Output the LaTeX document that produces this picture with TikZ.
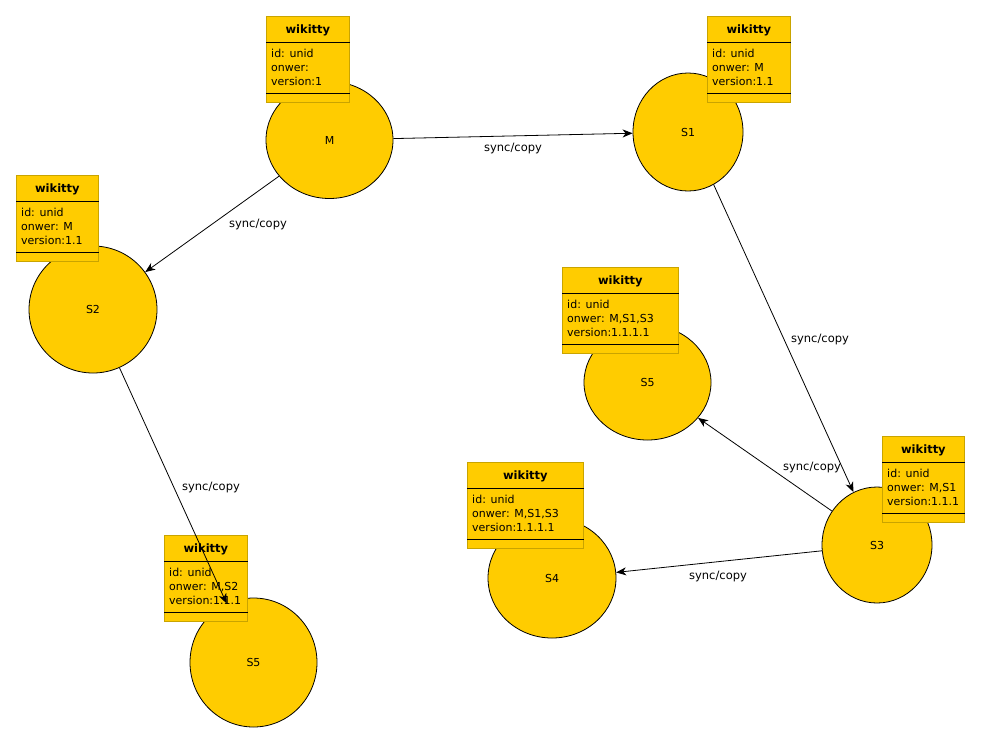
\documentclass[tikz,border=0pt]{standalone}
\usepackage{fontspec}
\setmainfont{DejaVu Sans}
\usetikzlibrary{shapes.geometric,arrows.meta,calc}
\definecolor{gold}{HTML}{FFCC00}
\definecolor{goldedge}{HTML}{C9A400}
\tikzset{
  txt/.style={font=\fontsize{11}{13}\selectfont, inner sep=0pt},
  ell/.style={ellipse, draw=black, fill=gold, line width=0.8pt, inner sep=0pt, txt},
  wbox/.style={rectangle, draw=goldedge, fill=gold, line width=0.8pt, minimum height=86pt, inner sep=0pt},
  attr/.style={txt, anchor=base west},
  sep/.style={draw=black, line width=0.8pt},
  flow/.style={draw=black, line width=0.8pt, -{Stealth[length=10pt,width=8pt,inset=3pt]}},
  lbl/.style={inner sep=0pt, font=\fontsize{11.5}{13}\selectfont}
}
\newcommand{\wbox}[6]{%
  \node[wbox, minimum width=#4pt, anchor=north west] (#1) at (#2,#3) {};
  \node[txt, anchor=base, font=\fontsize{11.5}{13}\selectfont\bfseries] (#1title) at ($(#1.north)+(0,17)$) {wikitty};
  \draw[sep] ($(#1.north west)+(0,26)$) -- ($(#1.north east)+(0,26)$);
  \draw[sep] ($(#1.north west)+(0,77)$) -- ($(#1.north east)+(0,77)$);
  \node[attr] (#1id) at ($(#1.north west)+(5,41)$) {id: unid};
  \node[attr] (#1ow) at ($(#1.north west)+(5,55)$) {#5};
  \node[attr] (#1ver) at ($(#1.north west)+(5,69)$) {#6};
}
\begin{document}
\begin{tikzpicture}[x=1pt,y=-1pt]
\useasboundingbox[fill=white] (0,0) rectangle (981,742);
% ellipses
\node[ell, minimum width=127pt, minimum height=117pt] (M) at (329.5,140) {M};
\node[ell, minimum width=110pt, minimum height=118pt] (S1) at (688,132) {S1};
\node[ell, minimum width=128pt, minimum height=127pt] (S2) at (93,309.5) {S2};
\node[ell, minimum width=127pt, minimum height=115pt] (S5a) at (647.5,382.5) {S5};
\node[ell, minimum width=110pt, minimum height=116pt] (S3) at (877,545) {S3};
\node[ell, minimum width=128pt, minimum height=120pt] (S4) at (552,578) {S4};
\node[ell, minimum width=127pt, minimum height=129pt] (S5b) at (253.5,662.5) {S5};
% boxes
\wbox{bM}{266}{16}{83}{onwer:}{version:1}
\wbox{bS1}{707}{16}{83}{onwer: M}{version:1.1}
\wbox{bS2}{16}{175}{82}{onwer: M}{version:1.1}
\wbox{bS5a}{562}{267}{116}{onwer: M,S1,S3}{version:1.1.1.1}
\wbox{bS3}{882}{436}{82}{onwer: M,S1}{version:1.1.1}
\wbox{bS4}{467}{462}{116}{onwer: M,S1,S3}{version:1.1.1.1}
\wbox{bS5b}{164}{535}{83}{onwer: M,S2}{version:1.1.1}
% connectors
\draw[flow] (M) -- (S1);
\draw[flow] (M) -- (S2);
\draw[flow] (S2) -- (S5b);
\draw[flow] (S1.-64.7) -- (S3.114.4);
\draw[flow] (S3.143.3) -- (S5a.-35.5);
\draw[flow] (S3.186.3) -- (S4.5.4);
% labels
\node[lbl] (l1) at (513,148) {sync/copy};
\node[lbl] (l2) at (258,224) {sync/copy};
\node[lbl] (l3) at (211,487) {sync/copy};
\node[lbl] (l4) at (820,339) {sync/copy};
\node[lbl] (l5) at (812,467) {sync/copy};
\node[lbl] (l6) at (718,576) {sync/copy};
\end{tikzpicture}
\end{document}
